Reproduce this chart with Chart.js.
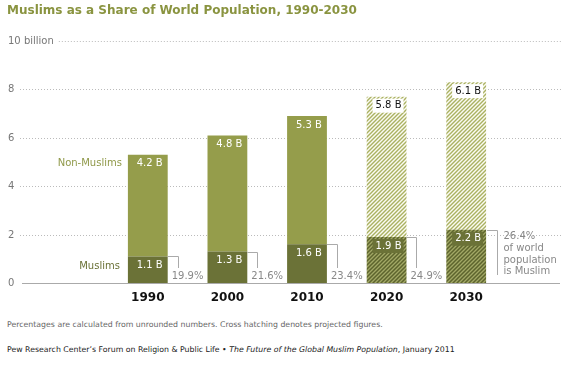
<!DOCTYPE html>
<html>
<head>
<meta charset="utf-8">
<script src="https://cdn.jsdelivr.net/npm/chart.js@4"></script>
<style>
  html, body { margin: 0; padding: 0; background: #fff; }
  #wrap { position: relative; width: 568px; height: 365px; overflow: hidden; font-family: "DejaVu Sans", Verdana, sans-serif; }
  #title { position: absolute; left: 7px; top: 2px; font-size: 12px; font-weight: bold; color: #8a9440; line-height: 16px; white-space: nowrap; }
  #chartBox { position: absolute; left: 0; top: 0; width: 568px; height: 315px; }
  .foot { position: absolute; left: 7px; font-size: 7.8px; line-height: 12px; white-space: nowrap; }
  #note { top: 319px; color: #666; }
  #source { top: 344px; color: #222; }
</style>
</head>
<body>
<div id="wrap">
  <div id="chartBox"><canvas id="c" width="568" height="315"></canvas></div>
  <div id="title">Muslims as a Share of World Population, 1990-2030</div>
  <div class="foot" id="note">Percentages are calculated from unrounded numbers. Cross hatching denotes projected figures.</div>
  <div class="foot" id="source">Pew Research Center’s Forum on Religion &amp; Public Life • <i>The Future of the Global Muslim Population</i>, January 2011</div>
</div>
<script>
// ---- data ----
const years = ['1990', '2000', '2010', '2020', '2030'];
const muslims = [1.1, 1.3, 1.6, 1.9, 2.2];
const nonMuslims = [4.2, 4.8, 5.3, 5.8, 6.1];
const muslimLabels = ['1.1 B', '1.3 B', '1.6 B', '1.9 B', '2.2 B'];
const nonMuslimLabels = ['4.2 B', '4.8 B', '5.3 B', '5.8 B', '6.1 B'];
const shareLabels = ['19.9%', '21.6%', '23.4%', '24.9%', '26.4%'];
const shareNoteLines = ['of world', 'population', 'is Muslim'];
const projected = [false, false, false, true, true];
const yTickValues = [0, 2, 4, 6, 8, 10];
const yTickLabels = ['0', '2', '4', '6', '8', '10 billion'];
const seriesNames = ['Muslims', 'Non-Muslims'];

// ---- styles ----
const FONT = '"DejaVu Sans", Verdana, sans-serif';
const C_NON = '#959d4b';
const C_MUS = '#6b7237';

function hatch(bg, fg, lw) {
  const c = document.createElement('canvas');
  c.width = 4; c.height = 4;
  const x = c.getContext('2d');
  x.fillStyle = bg; x.fillRect(0, 0, 4, 4);
  x.strokeStyle = fg; x.lineWidth = lw;
  x.beginPath();
  x.moveTo(0, 4); x.lineTo(4, 0);
  x.moveTo(-1, 1); x.lineTo(1, -1);
  x.moveTo(3, 5); x.lineTo(5, 3);
  x.stroke();
  return x.createPattern(c, 'repeat');
}
const hatchNon = hatch('#fbfbf2', '#aab162', 1.4);
const hatchMus = hatch('#a2a866', '#5d642d', 1.5);

const bgNon = projected.map(p => p ? hatchNon : C_NON);
const bgMus = projected.map(p => p ? hatchMus : C_MUS);

const gridPlugin = {
  id: 'grid',
  beforeDatasetsDraw(chart) {
    const ctx = chart.ctx, y = chart.scales.y;
    ctx.save();
    ctx.font = '10px ' + FONT;
    ctx.textBaseline = 'middle';
    ctx.textAlign = 'left';
    yTickValues.forEach((v, i) => {
      const py = Math.round(y.getPixelForValue(v)) + 0.5;
      ctx.fillStyle = '#777';
      ctx.fillText(yTickLabels[i], 8, py);
      const w = ctx.measureText(yTickLabels[i]).width;
      ctx.beginPath();
      if (v === 0) {
        ctx.strokeStyle = '#aaa';
        ctx.setLineDash([]);
        ctx.moveTo(22, py); ctx.lineTo(560, py);
      } else {
        ctx.strokeStyle = '#bbb';
        ctx.setLineDash([1, 2]);
        ctx.moveTo(Math.max(20, 8 + w + 5), py); ctx.lineTo(562, py);
      }
      ctx.lineWidth = 1;
      ctx.stroke();
    });
    ctx.restore();
  }
};

const labelPlugin = {
  id: 'labels',
  afterDatasetsDraw(chart) {
    const ctx = chart.ctx;
    const mMeta = chart.getDatasetMeta(0).data;
    const nMeta = chart.getDatasetMeta(1).data;
    ctx.save();
    ctx.font = '10px ' + FONT;
    ctx.textBaseline = 'middle';
    years.forEach((yr, i) => {
      const mb = mMeta[i], nb = nMeta[i];
      const left = mb.x - mb.width / 2, right = mb.x + mb.width / 2;
      const drawVal = (txt, top, boxColor, txtColor) => {
        ctx.textAlign = 'right';
        const tx = right - 5, ty = top + 9;
        const w = ctx.measureText(txt).width;
        if (boxColor) {
          ctx.fillStyle = boxColor;
          ctx.fillRect(tx - w - 3, ty - 7, w + 5, 14);
        }
        ctx.fillStyle = txtColor;
        ctx.fillText(txt, tx, ty);
      };
      if (projected[i]) {
        drawVal(nonMuslimLabels[i], nb.y, '#ffffff', '#111');
        drawVal(muslimLabels[i], mb.y, C_MUS, '#ffffff');
      } else {
        drawVal(nonMuslimLabels[i], nb.y, null, '#ffffff');
        drawVal(muslimLabels[i], mb.y, null, '#ffffff');
      }
      const topY = Math.round(mb.y) + 0.5;
      ctx.strokeStyle = '#aaa';
      ctx.lineWidth = 1;
      ctx.textAlign = 'left';
      ctx.fillStyle = '#888';
      if (i < years.length - 1) {
        const bx = Math.round(right + 10) + 0.5;
        ctx.beginPath();
        ctx.moveTo(right, topY); ctx.lineTo(bx, topY); ctx.lineTo(bx, 268);
        ctx.stroke();
        ctx.fillText(shareLabels[i], right + 4, 276);
      } else {
        const bx = Math.round(right + 11) + 0.5;
        ctx.beginPath();
        ctx.moveTo(right + 1, topY); ctx.lineTo(bx, topY); ctx.lineTo(bx, 275);
        ctx.stroke();
        const lines = [shareLabels[i]].concat(shareNoteLines);
        lines.forEach((t, k) => ctx.fillText(t, bx + 6, mb.y + 7 + k * 11.6));
      }
      if (i === 0) {
        ctx.textAlign = 'right';
        ctx.fillStyle = '#8f9848';
        ctx.fillText(seriesNames[1], left - 6, nb.y + 9);
        ctx.fillStyle = '#6b7237';
        ctx.fillText(seriesNames[0], left - 8, mb.y + 10);
      }
    });
    ctx.restore();
  }
};

new Chart(document.getElementById('c'), {
  type: 'bar',
  data: {
    labels: years,
    datasets: [
      { label: seriesNames[0], data: muslims, backgroundColor: bgMus, borderWidth: 0 },
      { label: seriesNames[1], data: nonMuslims, backgroundColor: bgNon, borderWidth: 0 }
    ]
  },
  options: {
    responsive: false,
    devicePixelRatio: 1,
    animation: false,
    layout: { padding: { left: 108, right: 62, top: 41, bottom: 0 } },
    plugins: { legend: { display: false }, tooltip: { enabled: false }, title: { display: false } },
    datasets: { bar: { categoryPercentage: 0.5, barPercentage: 1 } },
    scales: {
      x: {
        stacked: true,
        grid: { display: false, drawTicks: false },
        border: { display: false },
        ticks: { color: '#111', font: { family: FONT, size: 12, weight: 'bold' }, padding: 8 },
        afterFit(s) { s.height = 32; }
      },
      y: {
        stacked: true, min: 0, max: 10, display: false
      }
    }
  },
  plugins: [gridPlugin, labelPlugin]
});
</script>
</body>
</html>
